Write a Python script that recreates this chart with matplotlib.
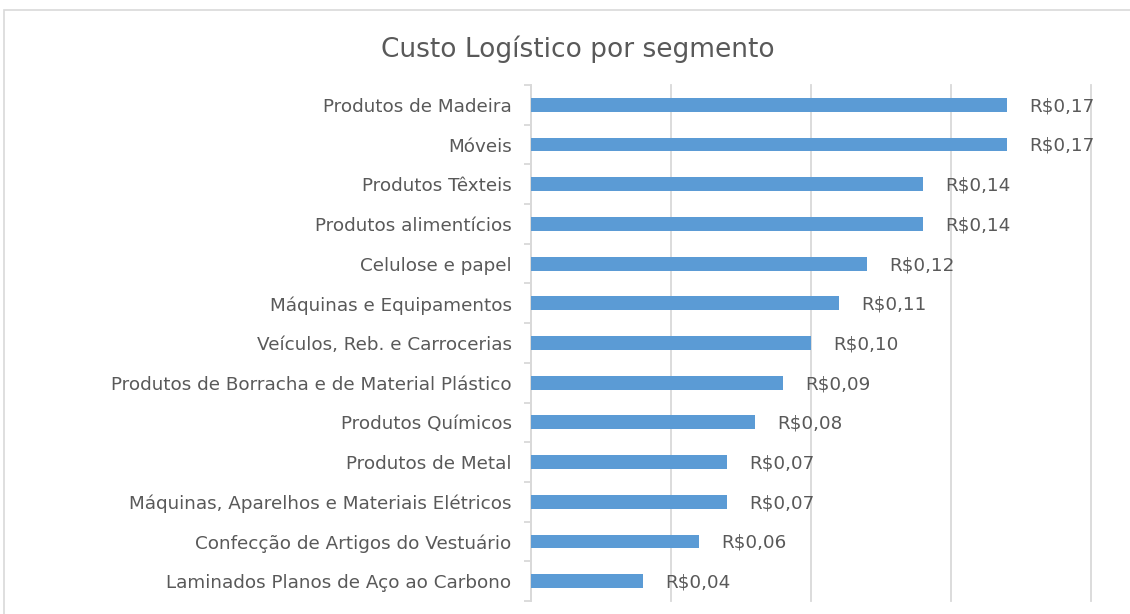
import matplotlib
matplotlib.use("Agg")
import matplotlib.pyplot as plt
from matplotlib.patches import Rectangle
import numpy as np

categories = [
    "Produtos de Madeira",
    "Móveis",
    "Produtos Têxteis",
    "Produtos alimentícios",
    "Celulose e papel",
    "Máquinas e Equipamentos",
    "Veículos, Reb. e Carrocerias",
    "Produtos de Borracha e de Material Plástico",
    "Produtos Químicos",
    "Produtos de Metal",
    "Máquinas, Aparelhos e Materiais Elétricos",
    "Confecção de Artigos do Vestuário",
    "Laminados Planos de Aço ao Carbono",
]
values = [0.17, 0.17, 0.14, 0.14, 0.12, 0.11, 0.10, 0.09, 0.08, 0.07, 0.07, 0.06, 0.04]
title = "Custo Logístico por segmento"

plt.rcParams['font.family'] = ['DejaVu Sans']
text_color = "#595959"
grid_color = "#d9d9d9"
bar_color = "#5b9bd5"

fig = plt.figure(figsize=(11.3, 6.14), dpi=100)
# chart frame
fig.patches.append(Rectangle((4/1130, -0.01), 1.0, (614-10)/614 + 0.01,
                             transform=fig.transFigure, fill=False,
                             edgecolor=grid_color, linewidth=1.2))

ax = fig.add_axes([531/1130, 13/614, 560/1130, (601-85)/614])
y = np.arange(len(categories))
ax.barh(y, values, height=0.35, color=bar_color, zorder=3)
ax.set_ylim(len(categories) - 0.5, -0.5)
ax.set_xlim(0, 0.20)
ax.set_xticks([0, 0.05, 0.10, 0.15, 0.20])
ax.xaxis.grid(True, color=grid_color, linewidth=1.3, zorder=0)
for gl in ax.get_xgridlines():
    gl.set_clip_on(False)
ax.tick_params(axis='x', bottom=False, labelbottom=False)
ax.set_yticks(y)
ax.set_yticklabels(categories, fontsize=13.2, color=text_color)
ax.tick_params(axis='y', which='major', length=0, pad=14)
ax.set_yticks(np.arange(-0.5, len(categories), 1), minor=True)
ax.tick_params(axis='y', which='minor', length=5, color=grid_color, width=1.3)
for s in ['top', 'right', 'bottom']:
    ax.spines[s].set_visible(False)
ax.spines['left'].set_color(grid_color)
ax.spines['left'].set_linewidth(1.3)

for yi, v in zip(y, values):
    ax.annotate("R$" + f"{v:.2f}".replace(".", ","), (v, yi),
                xytext=(16, -1), textcoords='offset points',
                ha='left', va='center', fontsize=13.2, color=text_color)

fig.text(578/1130, 1 - 49/614, title, ha='center', va='center',
         fontsize=19, color=text_color)

fig.savefig("out.png", dpi=100)
